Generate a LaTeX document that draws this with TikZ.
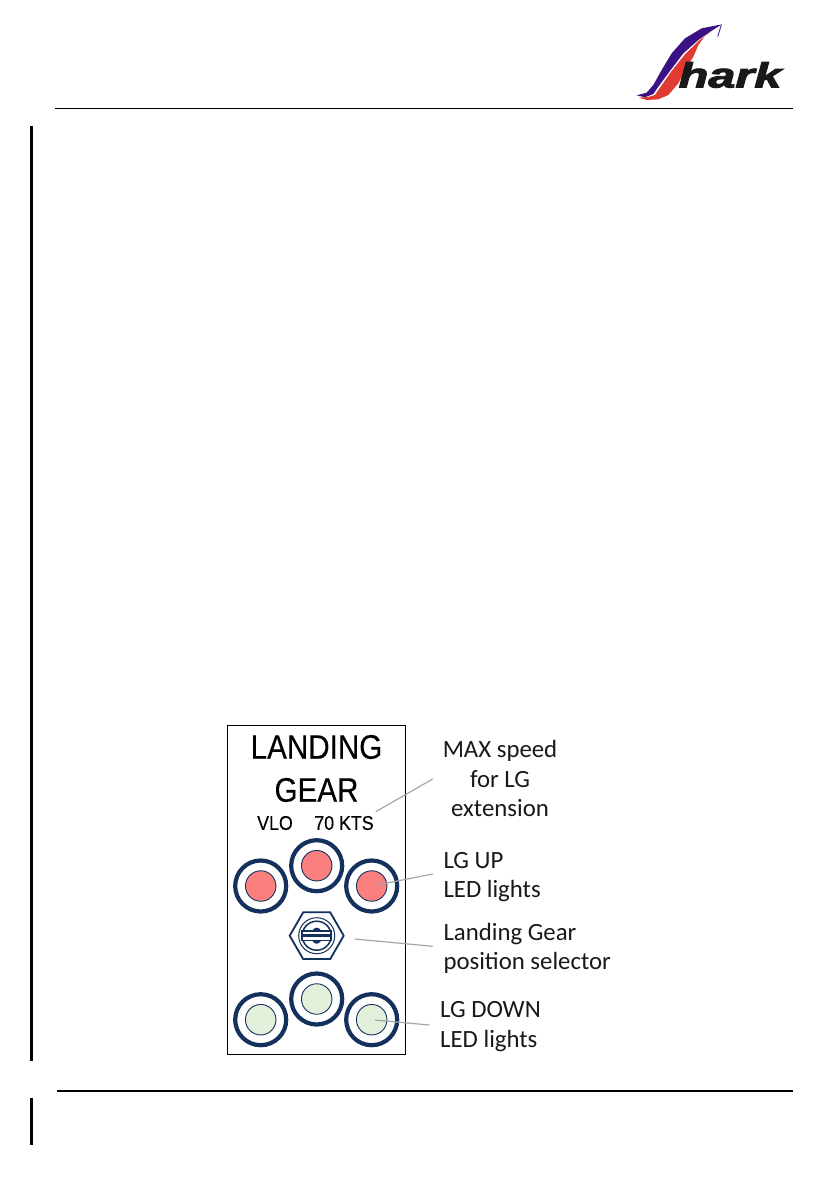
\documentclass[tikz,border=0pt]{standalone}
\usepackage{fontspec}
\setmainfont{Carlito}
\newfontfamily\panelfont[FakeBold=0.3]{Liberation Sans}
\newfontfamily\brandfont[FakeBold=2.5]{Liberation Sans Bold Italic}
\usepackage{xcolor}
\usetikzlibrary{positioning,shapes.geometric,calc}
\definecolor{ring}{HTML}{14305C}
\definecolor{up}{HTML}{FA8080}
\definecolor{down}{HTML}{E2EFD9}
\definecolor{lead}{HTML}{A6A6A6}
\definecolor{sharkblue}{HTML}{3A1285}
\definecolor{sharkred}{HTML}{E03A32}
\tikzset{
  x=1pt, y=-1pt,
  rulebar/.style={line width=2pt, black},
  sidebar/.style={line width=2.6pt, black},
  bezel/.style={draw=ring, line width=4.2pt, circle, minimum size=51pt, inner sep=0pt, fill=white},
  lamp/.style={draw=ring, line width=0.9pt, circle, minimum size=30.5pt, inner sep=0pt},
  lbl/.style={font=\fontsize{24.8}{29.6}\selectfont, align=center, text=black!90, inner sep=0pt},
  ptitle/.style={font=\panelfont\fontsize{29.6}{30}\selectfont, align=center, inner sep=0pt, yscale=1.15},
  psmall/.style={font=\panelfont\fontsize{17.8}{18}\selectfont, inner sep=0pt, yscale=1.12},
  lead/.style={draw=lead, line width=1.2pt}
}
\begin{document}
\begin{tikzpicture}
\useasboundingbox (0,0) rectangle (839,1191);
\fill[white] (0,0) rectangle (839,1191);
% page rules
\coordinate (headl) at (55,108);
\coordinate (headr) at (793,108);
\coordinate (footl) at (57,1091);
\coordinate (footr) at (793,1091);
\draw[line width=1pt] (headl) -- (headr);
\draw[rulebar] (footl) -- (footr);
\draw[sidebar] (31.5,126) -- (31.5,1061);
\draw[sidebar] (31.5,1098) -- (31.5,1145);
% logo
\begin{scope}[shift={(630,20)}, x=0.3333pt, y=-0.3333pt]
\fill[sharkblue] (276,13) -- (215,25) -- (165,55) -- (125,100) -- (95,150) -- (70,195) -- (50,218) -- (20,226) -- (45,232) -- (70,222) -- (85,200) -- (122,150) -- (160,100) -- (205,60) -- (245,32) -- cycle;
\fill[sharkred] (25,233) -- (55,231) -- (75,225) -- (90,203) -- (125,153) -- (165,103) -- (207,62) -- (250,30) -- (225,48) -- (205,75) -- (190,110) -- (165,150) -- (145,190) -- (115,225) -- (85,238) -- (50,240) -- cycle;
\draw[sharkblue, line width=0.8pt] (274,15) -- (263,50);
\end{scope}
\node[font=\brandfont\fontsize{35}{35}\selectfont, inner sep=0pt, text=black!90, xscale=1.39] (brand) at (730,75) {hark};
% panel
\node[draw, line width=1pt, minimum width=178pt, minimum height=329pt, inner sep=0pt] (panel) at (316,889.5) {};
\node[ptitle] (ttla) at (316.5,747) {LANDING};
\node[ptitle] (ttlb) at (316.5,790) {GEAR};
\node[psmall] (vlo) at (275,823) {VLO};
\node[psmall] (kts) at (344,823) {70 KTS};
% lights
\foreach \nm/\px/\py/\col in {upl/260.7/886/up, upc/316.7/865.7/up, upr/371.7/886/up, dnl/260.7/1019.7/down, dnc/316.7/999/down, dnr/371.7/1019.7/down} {
  \node[bezel] (\nm) at (\px,\py) {};
  \node[lamp, fill=\col] (\nm lamp) at (\px,\py) {};
}
% selector
\node[draw=ring, line width=1.8pt, regular polygon, regular polygon sides=6, minimum size=54pt, inner sep=0pt] (hex) at (316.7,935.7) {};
\node[draw=ring, line width=1pt, circle, minimum size=36pt, inner sep=0pt] (selo) at (hex.center) {};
\node[draw=ring, line width=1.5pt, circle, minimum size=29pt, inner sep=0pt] (seli) at (hex.center) {};
\node[fill=ring, ellipse, minimum width=11pt, minimum height=16pt, inner sep=0pt] (knob) at (hex.center) {};
\node[draw=ring, line width=1.8pt, fill=white, minimum width=29pt, minimum height=9.5pt, inner sep=0pt] (slot) at (hex.center) {};
\draw[ring, line width=2.6pt] (slot.west) -- (slot.east);
% labels
\node[lbl] (maxl) at (500,778.5) {MAX speed\\for LG\\extension};
\node[lbl, align=left] (upled) at (443.3,877) [anchor=west] {LG UP\\LED lights};
\node[lbl, align=left] (sell) at (443.3,948.5) [anchor=west] {Landing Gear\\position selector};
\node[lbl, align=left] (dnled) at (440,1026.5) [anchor=west] {LG DOWN\\LED lights};
% leaders
\coordinate (maxs) at (432.7,779);
\coordinate (ups) at (432.7,874);
\coordinate (sels) at (432.7,946.3);
\coordinate (dns) at (429.3,1025);
\coordinate (maxe) at (375.7,811.7);
\coordinate (upe) at (377,885);
\coordinate (sele) at (355,939);
\coordinate (dne) at (375,1020);
\draw[lead] (maxs) -- (maxe);
\draw[lead] (ups) -- (upe);
\draw[lead] (sels) -- (sele);
\draw[lead] (dns) -- (dne);
\end{tikzpicture}
\end{document}
